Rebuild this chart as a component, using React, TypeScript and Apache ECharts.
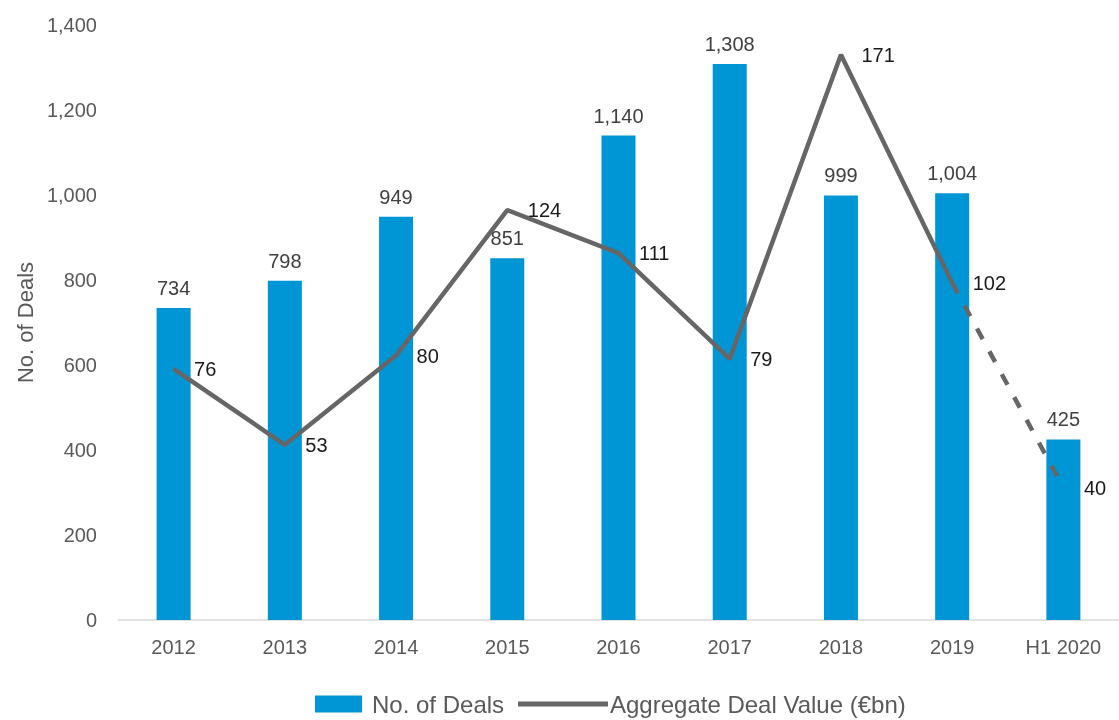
import React, { useEffect, useRef } from "react";
import * as echarts from "echarts";

const categories = ["2012", "2013", "2014", "2015", "2016", "2017", "2018", "2019", "H1 2020"];
const dealCounts = [734, 798, 949, 851, 1140, 1308, 999, 1004, 425];
const dealValues = [76, 53, 80, 124, 111, 79, 171, 102, 40];
const yTicks = { min: 0, max: 1400, interval: 200 };

const FONT = "'Liberation Sans', Arial, sans-serif";

export default function App() {
  const ref = useRef<HTMLDivElement>(null);
  useEffect(() => {
    if (!ref.current) return;
    const chart = echarts.init(ref.current, null, { renderer: "svg" });
    const solid = dealValues.map((v, i) => (i <= dealValues.length - 2 ? v : null));
    const dashed = dealValues.map((v, i) => (i >= dealValues.length - 2 ? v : null));
    const lastIdx = dealValues.length - 1;
    chart.setOption({
      animation: false,
      textStyle: { fontFamily: FONT },
      grid: { left: 118, right: 0, top: 25, bottom: 100 },
      legend: [
        {
          data: ["No. of Deals"],
          left: 315,
          top: 691,
          padding: 0,
          itemWidth: 47,
          itemHeight: 17,
          icon: "rect",
          textStyle: { fontFamily: FONT, fontSize: 24, lineHeight: 26, color: "#595959", padding: [0, 0, 0, 5] },
        },
        {
          data: ["Aggregate Deal Value (€bn)"],
          left: 518,
          top: 691,
          padding: 0,
          itemWidth: 90,
          itemHeight: 5,
          icon: "rect",
          textStyle: { fontFamily: FONT, fontSize: 24, lineHeight: 26, color: "#595959", padding: [0, 0, 0, -3] },
        },
      ],
      xAxis: {
        type: "category",
        data: categories,
        axisTick: { show: false },
        axisLine: { lineStyle: { color: "#d9d9d9", width: 1.5 } },
        axisLabel: { fontFamily: FONT, fontSize: 20, color: "#595959", margin: 17, interval: 0 },
      },
      yAxis: [
        {
          type: "value",
          min: yTicks.min,
          max: yTicks.max,
          interval: yTicks.interval,
          name: "No. of Deals",
          nameLocation: "middle",
          nameGap: 82,
          nameTextStyle: { fontFamily: FONT, fontSize: 22, color: "#595959" },
          splitLine: { show: false },
          axisLine: { show: false },
          axisTick: { show: false },
          axisLabel: {
            fontFamily: FONT,
            fontSize: 20,
            color: "#595959",
            margin: 21,
            formatter: (v: number) => v.toLocaleString("en-US"),
          },
        },
        {
          type: "value",
          min: 0,
          max: 180,
          show: false,
          splitLine: { show: false },
        },
      ],
      series: [
        {
          name: "No. of Deals",
          type: "bar",
          data: dealCounts,
          barWidth: 34,
          itemStyle: { color: "#0096D6" },
          label: {
            show: true,
            position: "top",
            distance: 10,
            fontFamily: FONT,
            fontSize: 20,
            color: "#404040",
            formatter: (p: any) => Number(p.value).toLocaleString("en-US"),
          },
        },
        {
          name: "Aggregate Deal Value (€bn)",
          type: "line",
          yAxisIndex: 1,
          data: solid,
          symbol: "circle",
          symbolSize: 1,
          showSymbol: true,
          z: 5,
          itemStyle: { color: "#666666" },
          lineStyle: { color: "#666666", width: 4.5 },
          label: {
            show: true,
            position: "right",
            distance: 20,
            fontFamily: FONT,
            fontSize: 20,
            color: "#1a1a1a",
          },
        },
        {
          name: "dashed",
          type: "line",
          yAxisIndex: 1,
          data: dashed,
          symbol: "circle",
          symbolSize: 1,
          showSymbol: true,
          z: 5,
          itemStyle: { color: "#666666" },
          lineStyle: { color: "#666666", width: 4.5, type: [12, 14] },
          label: {
            show: true,
            position: "right",
            distance: 20,
            fontFamily: FONT,
            fontSize: 20,
            color: "#1a1a1a",
            formatter: (p: any) => (p.dataIndex === lastIdx ? String(p.value) : ""),
          },
        },
      ],
    });
    return () => chart.dispose();
  }, []);
  return <div ref={ref} style={{ position: "fixed", left: 0, top: 0, width: 1119, height: 720 }} />;
}
